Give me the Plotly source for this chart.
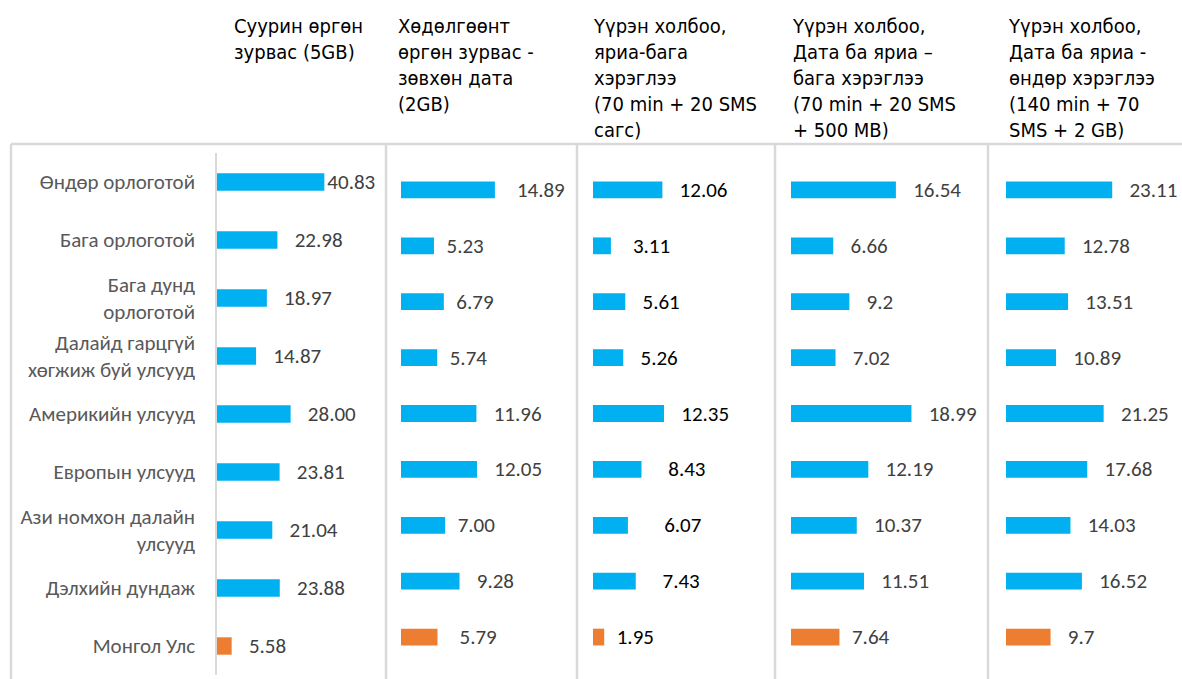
import plotly.graph_objects as go

W, H = 1182, 679

categories = [
    "Өндөр орлоготой",
    "Бага орлоготой",
    "Бага дунд<br>орлоготой",
    "Далайд гарцгүй<br>хөгжиж буй улсууд",
    "Америкийн улсууд",
    "Европын улсууд",
    "Ази номхон далайн<br>улсууд",
    "Дэлхийн дундаж",
    "Монгол Улс",
]

headers = [
    "Суурин өргөн<br>зурвас (5GB)",
    "Хөдөлгөөнт<br>өргөн зурвас -<br>зөвхөн дата<br>(2GB)",
    "Үүрэн холбоо,<br>яриа-бага<br>хэрэглээ<br>(70 min + 20 SMS<br>сагс)",
    "Үүрэн холбоо,<br>Дата ба яриа –<br>бага хэрэглээ<br>(70 min + 20 SMS<br>+ 500 MB)",
    "Үүрэн холбоо,<br>Дата ба яриа -<br>өндөр хэрэглээ<br>(140 min + 70<br>SMS + 2 GB)",
]

fixed_bb = [40.83, 22.98, 18.97, 14.87, 28.00, 23.81, 21.04, 23.88, 5.58]
mobile_data = [14.89, 5.23, 6.79, 5.74, 11.96, 12.05, 7.00, 9.28, 5.79]
voice_low = [12.06, 3.11, 5.61, 5.26, 12.35, 8.43, 6.07, 7.43, 1.95]
data_voice_low = [16.54, 6.66, 9.2, 7.02, 18.99, 12.19, 10.37, 11.51, 7.64]
data_voice_high = [23.11, 12.78, 13.51, 10.89, 21.25, 17.68, 14.03, 16.52, 9.7]

fixed_bb_lbl = ["40.83", "22.98", "18.97", "14.87", "28.00", "23.81", "21.04", "23.88", "5.58"]
mobile_data_lbl = ["14.89", "5.23", "6.79", "5.74", "11.96", "12.05", "7.00", "9.28", "5.79"]
voice_low_lbl = ["12.06", "3.11", "5.61", "5.26", "12.35", "8.43", "6.07", "7.43", "1.95"]
data_voice_low_lbl = ["16.54", "6.66", "9.2", "7.02", "18.99", "12.19", "10.37", "11.51", "7.64"]
data_voice_high_lbl = ["23.11", "12.78", "13.51", "10.89", "21.25", "17.68", "14.03", "16.52", "9.7"]

series = [
    (fixed_bb, fixed_bb_lbl),
    (mobile_data, mobile_data_lbl),
    (voice_low, voice_low_lbl),
    (data_voice_low, data_voice_low_lbl),
    (data_voice_high, data_voice_high_lbl),
]

BLUE = "#00B0F0"
ORANGE = "#ED7D31"
GRID = "#D9D9D9"
colors = [ORANGE if c == "Монгол Улс" else BLUE for c in categories]

# styling: label padding (number of spaces) per panel / per row
label_pad = [
    [0, 3, 3, 3, 3, 3, 3, 3, 3],
    [4, 2, 2, 2, 3, 3, 2, 3, 4],
    [3, 4, 3, 3, 3, 5, 7, 5, 2],
    [3, 3, 3, 3, 3, 3, 3, 3, 2],
    [3, 3, 3, 3, 3, 3, 3, 3, 3],
]

# panel layout in pixels: (bar start, panel end, axis max)
panels = [
    (217, 380, 62.0),
    (401, 570, 26.8),
    (593, 765, 29.9),
    (791, 980, 29.8),
    (1006, 1182, 38.3),
]
header_x = [232, 396, 591, 790, 1006]
txt_colors = ["#404040", "#404040", "#000000", "#404040", "#404040"]

VAL_FONT = "Calibri, Carlito, Roboto, sans-serif"
HEAD_FONT = "Tahoma, DejaVu Sans Condensed, DejaVu Sans, sans-serif"

fig = go.Figure()
for i, ((vals, lbls), (x0, x1, xmax)) in enumerate(zip(series, panels)):
    xa = "x" if i == 0 else f"x{i+1}"
    ya = "y" if i == 0 else "y2"
    fig.add_trace(go.Bar(
        y=categories, x=vals, orientation="h",
        marker=dict(color=colors, line=dict(width=0)),
        width=0.3,
        text=[" " * p + t for p, t in zip(label_pad[i], lbls)],
        textposition="outside",
        constraintext="none",
        textfont=dict(family=VAL_FONT, size=21, color=txt_colors[i]),
        cliponaxis=False,
        xaxis=xa, yaxis=ya,
        hoverinfo="skip",
        showlegend=False,
    ))
    key = "xaxis" if i == 0 else f"xaxis{i+1}"
    fig.layout[key] = dict(
        domain=[x0 / W, x1 / W], range=[0, xmax],
        visible=False, anchor=ya, fixedrange=True,
    )

fig.update_layout(
    yaxis=dict(
        domain=[1 - 675 / H, 1 - 153 / H],
        categoryorder="array", categoryarray=categories,
        autorange="reversed", anchor="x",
        showline=True, linecolor=GRID, linewidth=1.5,
        showgrid=False, zeroline=False, ticks="",
        ticklabelstandoff=16,
        tickfont=dict(family=VAL_FONT, size=21, color="#595959"),
    ),
    yaxis2=dict(
        domain=[1 - 665 / H, 1 - 162 / H],
        categoryorder="array", categoryarray=categories,
        autorange="reversed", anchor="x2",
        visible=False,
    ),
)

shapes = []
shapes.append(dict(type="line", xref="paper", yref="paper",
                   x0=11 / W, x1=1, y0=1 - 144 / H, y1=1 - 144 / H,
                   line=dict(color=GRID, width=2.5)))
for px in [11, 386, 577, 775, 988]:
    shapes.append(dict(type="line", xref="paper", yref="paper",
                       x0=px / W, x1=px / W, y0=0, y1=1 - 144 / H,
                       line=dict(color=GRID, width=2.5)))

annotations = []
for hx, txt in zip(header_x, headers):
    annotations.append(dict(
        x=hx / W, y=1 - 12 / H, xref="paper", yref="paper",
        xanchor="left", yanchor="top", align="left",
        text=txt, showarrow=False,
        font=dict(family=HEAD_FONT, size=20, color="#000000"),
    ))

fig.update_layout(
    width=W, height=H,
    margin=dict(l=0, r=0, t=0, b=0),
    paper_bgcolor="white", plot_bgcolor="white",
    bargap=0.7,
    shapes=shapes, annotations=annotations,
)

fig.write_html("out.html", config={"displayModeBar": False},
               post_script="document.body.style.margin='0';")
